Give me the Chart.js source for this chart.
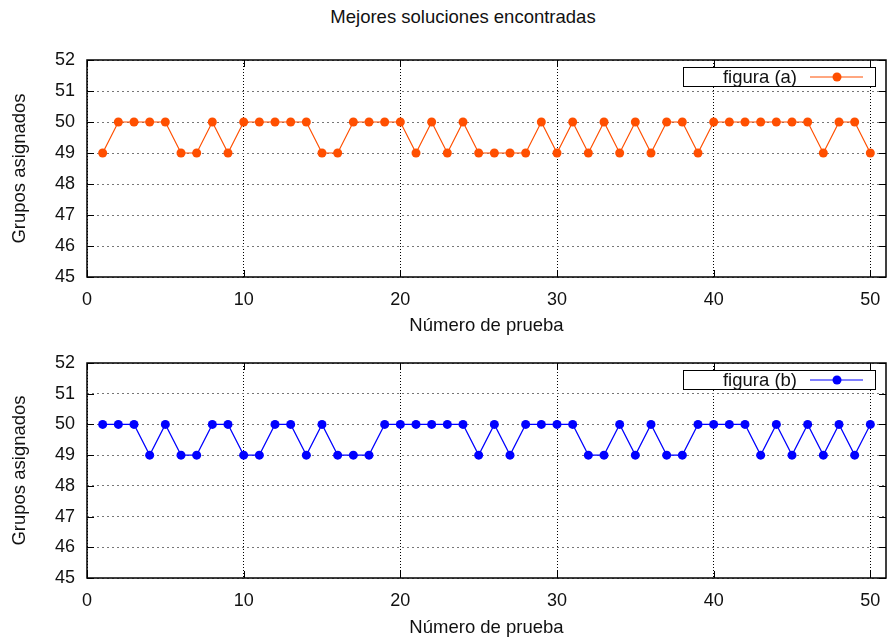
<!DOCTYPE html>
<html>
<head>
<meta charset="utf-8">
<script src="https://cdn.jsdelivr.net/npm/chart.js@4.4.0/dist/chart.umd.min.js"></script>
<style>
  html, body { margin: 0; padding: 0; background: #fff; }
  #wrap { position: relative; width: 888px; height: 639px; overflow: hidden; }
  #title {
    position: absolute; left: 263px; width: 400px; top: 6px;
    text-align: center; line-height: 22px; color: #111;
    font: 18.5px "Liberation Sans", Arial, sans-serif;
  }
  canvas { position: absolute; left: 0; }
</style>
</head>
<body>
<div id="wrap">
  <div id="title">Mejores soluciones encontradas</div>
  <canvas id="chartA" width="888" height="338" style="top:0"></canvas>
  <canvas id="chartB" width="888" height="301" style="top:338px"></canvas>
</div>
<script>
// ── DATA ──
const trials = [1,2,3,4,5,6,7,8,9,10,11,12,13,14,15,16,17,18,19,20,21,22,23,24,25,
                26,27,28,29,30,31,32,33,34,35,36,37,38,39,40,41,42,43,44,45,46,47,48,49,50];
const figA = [49,50,50,50,50,49,49,50,49,50, 50,50,50,50,49,49,50,50,50,50,
              49,50,49,50,49,49,49,49,50,49, 50,49,50,49,50,49,50,50,49,50,
              50,50,50,50,50,50,49,50,50,49];
const figB = [50,50,50,49,50,49,49,50,50,49, 49,50,50,49,50,49,49,49,50,50,
              50,50,50,50,49,50,49,50,50,50, 50,49,49,50,49,50,49,49,50,50,
              50,50,49,50,49,50,49,50,49,50];
const xTicks = [0, 10, 20, 30, 40, 50];
const yTicks = [45, 46, 47, 48, 49, 50, 51, 52];

const FONT = '"Liberation Sans", Arial, sans-serif';
const INK = '#111';

// ── GNUPLOT-STYLE FRAME, MIRROR TICKS AND KEY ──
const frameKey = {
  id: 'frameKey',
  afterDraw(chart) {
    const { ctx, chartArea: a, scales } = chart;
    ctx.save();
    // frame
    ctx.strokeStyle = '#000';
    ctx.lineWidth = 1.5;
    ctx.strokeRect(a.left, a.top, a.right - a.left, a.bottom - a.top);
    // inward ticks on all four sides
    ctx.lineWidth = 1;
    ctx.beginPath();
    scales.x.ticks.forEach(t => {
      const px = Math.round(scales.x.getPixelForValue(t.value)) + 0.5;
      ctx.moveTo(px, a.bottom); ctx.lineTo(px, a.bottom - 7);
      ctx.moveTo(px, a.top);    ctx.lineTo(px, a.top + 7);
    });
    scales.y.ticks.forEach(t => {
      const py = Math.round(scales.y.getPixelForValue(t.value)) + 0.5;
      ctx.moveTo(a.left, py);  ctx.lineTo(a.left + 7, py);
      ctx.moveTo(a.right, py); ctx.lineTo(a.right - 7, py);
    });
    ctx.stroke();

    // key box
    const ds = chart.data.datasets[0];
    const bx = a.right - 203, by = a.top + 7, bw = 192, bh = 19;
    ctx.fillStyle = '#fff';
    ctx.fillRect(bx, by, bw, bh);
    ctx.strokeStyle = '#000';
    ctx.lineWidth = 1;
    ctx.strokeRect(bx + 0.5, by + 0.5, bw, bh);
    const cy = by + bh / 2 + 0.5;
    ctx.fillStyle = INK;
    ctx.font = '18.5px ' + FONT;
    ctx.textAlign = 'right';
    ctx.textBaseline = 'middle';
    ctx.fillText(ds.label, a.right - 89, cy + 1);
    ctx.strokeStyle = ds.borderColor;
    ctx.beginPath();
    ctx.moveTo(a.right - 76, cy); ctx.lineTo(a.right - 23, cy);
    ctx.stroke();
    ctx.fillStyle = ds.borderColor;
    ctx.beginPath();
    ctx.arc(a.right - 49, cy, 4.5, 0, Math.PI * 2);
    ctx.fill();
    ctx.restore();
  }
};

function makeChart(id, label, values, color, padTop, xTitlePad) {
  return new Chart(document.getElementById(id), {
    type: 'line',
    data: {
      datasets: [{
        label: label,
        data: trials.map((t, i) => ({ x: t, y: values[i] })),
        borderColor: color,
        backgroundColor: color,
        borderWidth: 1.2,
        pointRadius: 4.5,
        pointBackgroundColor: color,
        pointBorderWidth: 0,
        tension: 0,
        fill: false
      }]
    },
    options: {
      responsive: false,
      animation: false,
      devicePixelRatio: 1,
      layout: { autoPadding: false, padding: { top: padTop, right: 2, left: 0, bottom: 0 } },
      plugins: { legend: { display: false }, tooltip: { enabled: false } },
      scales: {
        x: {
          type: 'linear',
          min: 0, max: 51,
          afterBuildTicks: s => { s.ticks = xTicks.map(v => ({ value: v })); },
          afterFit: s => { s.height = 61; s.paddingLeft = 0; s.paddingRight = 0; },
          border: { display: false, dash: [1, 2] },
          grid: { color: '#000', lineWidth: 1, drawTicks: false },
          ticks: { color: INK, padding: 12, maxRotation: 0, font: { family: FONT, size: 18 } },
          title: {
            display: true, text: 'Número de prueba', color: INK,
            padding: { top: 0, bottom: xTitlePad },
            font: { family: FONT, size: 18.5 }
          }
        },
        y: {
          min: 45, max: 52,
          afterBuildTicks: s => { s.ticks = yTicks.map(v => ({ value: v })); },
          afterFit: s => { s.width = 87; },
          border: { display: false, dash: [2, 3] },
          grid: { color: '#777', lineWidth: 1, drawTicks: false },
          ticks: { color: INK, padding: 12, font: { family: FONT, size: 18 } },
          title: {
            display: true, text: 'Grupos asignados', color: INK,
            padding: { top: 9, bottom: 0 },
            font: { family: FONT, size: 18.5 }
          }
        }
      }
    },
    plugins: [frameKey]
  });
}

makeChart('chartA', 'figura (a)', figA, '#ff4f00', 60, 1);
makeChart('chartB', 'figura (b)', figB, '#0000ff', 25, 0);
</script>
</body>
</html>
